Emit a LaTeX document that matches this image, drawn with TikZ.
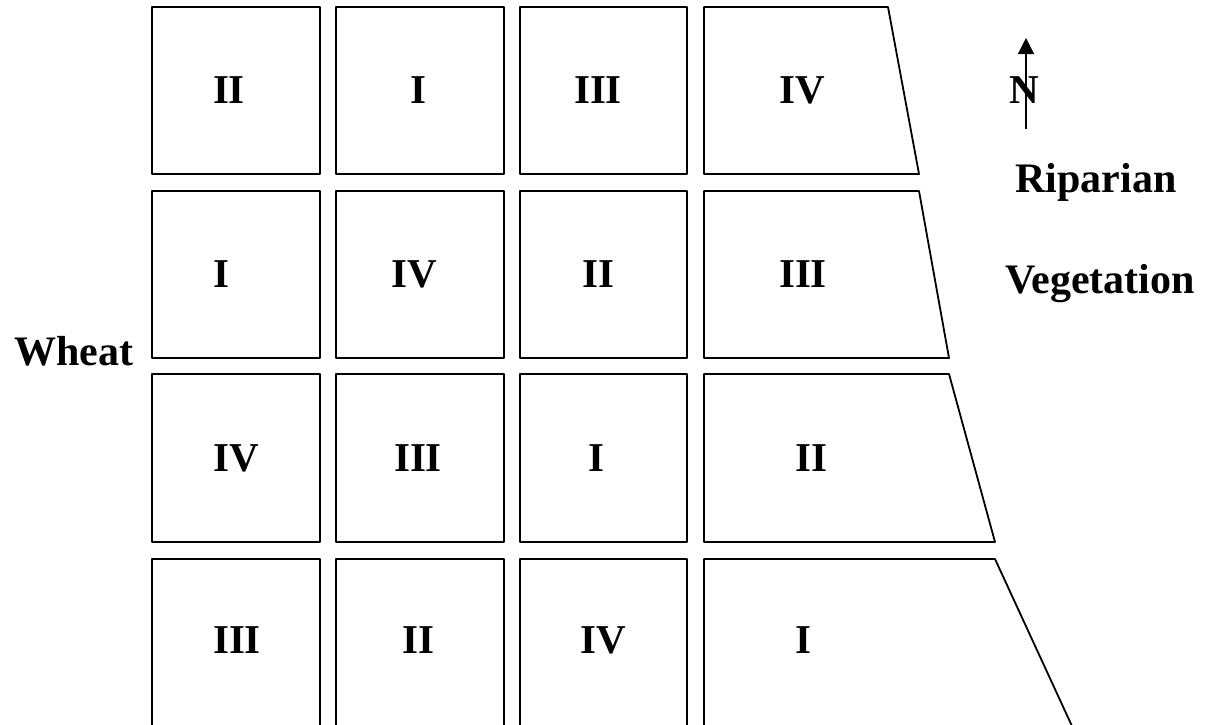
\documentclass[tikz,border=0pt]{standalone}
\usepackage{fontspec}
\setmainfont{Liberation Serif}
\usetikzlibrary{arrows.meta}

\begin{document}
\begin{tikzpicture}[x=0.5pt,y=-0.5pt]
\tikzset{
  plotbox/.style={draw,line width=0.9pt,line join=round},
  trtlabel/.style={font=\fontsize{20.5}{24}\selectfont\bfseries,inner sep=0pt},
  sidelabel/.style={font=\fontsize{21}{25}\selectfont\bfseries,inner sep=0pt,anchor=base},
  northarrow/.style={-{Triangle[length=8pt,width=8pt]},line width=0.7pt}
}
\useasboundingbox (0,0) rectangle (1209,724);
\clip (0,0) rectangle (1209,724);
% plots
\draw[plotbox] (152,7) rectangle (320,174);
\draw[plotbox] (336,7) rectangle (504,174);
\draw[plotbox] (520,7) rectangle (687,174);
\draw[plotbox] (704,7) -- (888,7) -- (919,174) -- (704,174) -- cycle;
\draw[plotbox] (152,191) rectangle (320,358);
\draw[plotbox] (336,191) rectangle (504,358);
\draw[plotbox] (520,191) rectangle (687,358);
\draw[plotbox] (704,191) -- (919,191) -- (949,358) -- (704,358) -- cycle;
\draw[plotbox] (152,374) rectangle (320,542);
\draw[plotbox] (336,374) rectangle (504,542);
\draw[plotbox] (520,374) rectangle (687,542);
\draw[plotbox] (704,374) -- (949,374) -- (995,542) -- (704,542) -- cycle;
\draw[plotbox] (152,559) rectangle (320,740);
\draw[plotbox] (336,559) rectangle (504,740);
\draw[plotbox] (520,559) rectangle (687,740);
\draw[plotbox] (704,559) -- (995,559) -- (1078.4,740) -- (704,740) -- cycle;
% treatments
\node[trtlabel] (t_11) at (229,90) {II};
\node[trtlabel] (t_12) at (418,90) {I};
\node[trtlabel] (t_13) at (598,90) {III};
\node[trtlabel] (t_14) at (802,90) {IV};
\node[trtlabel] (t_21) at (221,274) {I};
\node[trtlabel] (t_22) at (414,274) {IV};
\node[trtlabel] (t_23) at (598,274) {II};
\node[trtlabel] (t_24) at (803,274) {III};
\node[trtlabel] (t_31) at (236,458) {IV};
\node[trtlabel] (t_32) at (418,458) {III};
\node[trtlabel] (t_33) at (596,458) {I};
\node[trtlabel] (t_34) at (811,458) {II};
\node[trtlabel] (t_41) at (237,640) {III};
\node[trtlabel] (t_42) at (418,640) {II};
\node[trtlabel] (t_43) at (603,640) {IV};
\node[trtlabel] (t_44) at (803,640) {I};
% surroundings
\node[sidelabel] (wheat) at (74,365) {Wheat};
\node[sidelabel] (riparian) at (1096,192) {Riparian};
\node[sidelabel] (vegetation) at (1100,293) {Vegetation};
\node[trtlabel] (north) at (1024,90) {N};
\coordinate (arr_s) at (1026,129);
\coordinate (arr_e) at (1026,38);
\draw[northarrow] (arr_s) -- (arr_e);
\end{tikzpicture}
\end{document}
